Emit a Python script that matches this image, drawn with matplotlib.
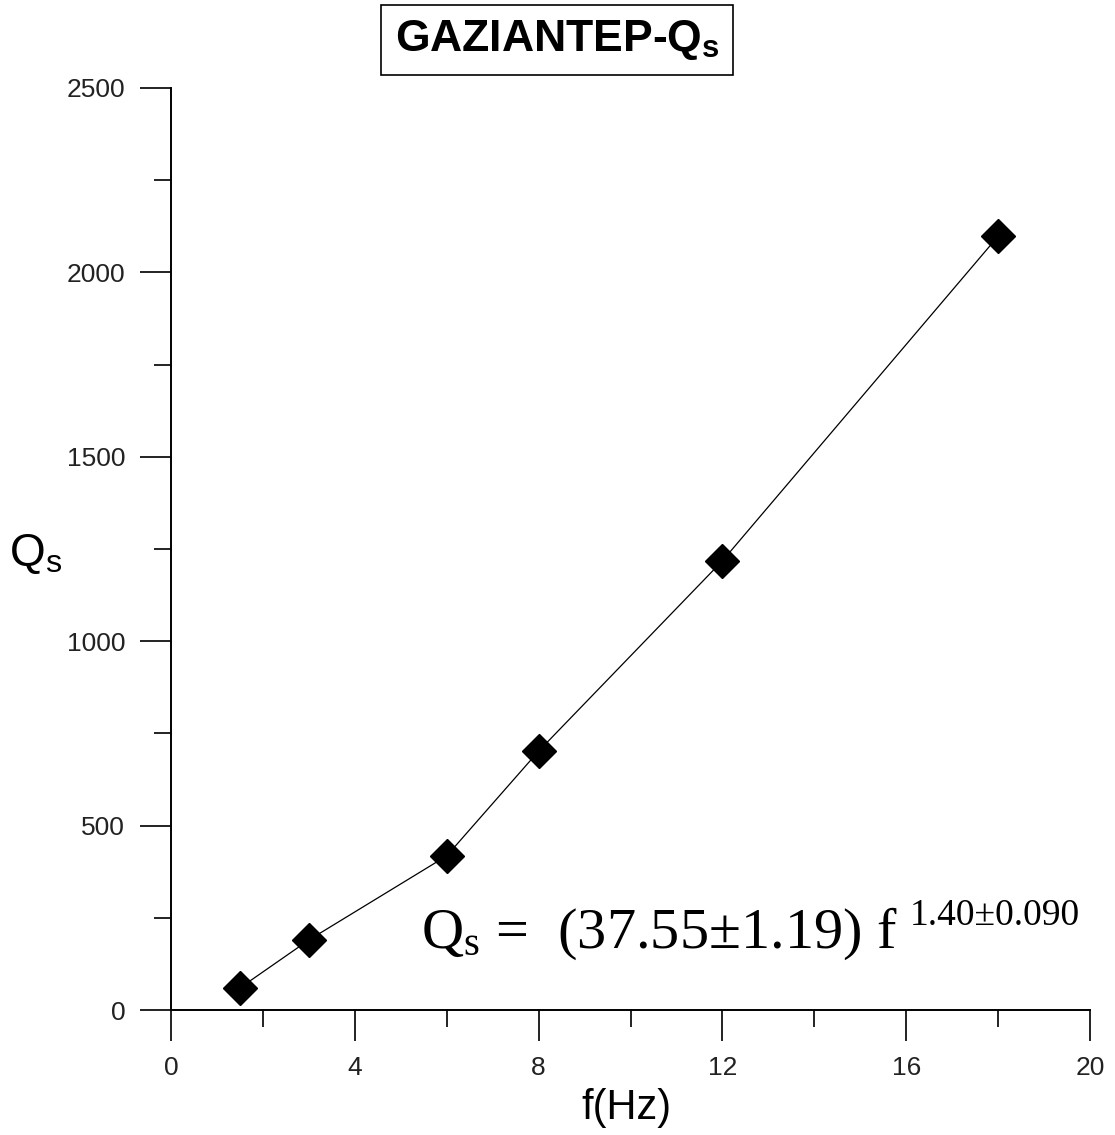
import numpy as np
import matplotlib.pyplot as plt
from matplotlib.ticker import MultipleLocator

plt.rcParams['font.family'] = ['Liberation Sans', 'DejaVu Sans']
plt.rcParams['mathtext.fontset'] = 'custom'
plt.rcParams['mathtext.rm'] = 'Liberation Serif'
plt.rcParams['mathtext.it'] = 'Liberation Serif:italic'
plt.rcParams['mathtext.sf'] = 'Liberation Sans'
plt.rcParams['mathtext.bf'] = 'Liberation Sans:bold'

# frequency (Hz) and Qs values
freq = [1.5, 3, 6, 8, 12, 18]
qs = [60, 190, 418, 702, 1218, 2098]

fig = plt.figure(figsize=(11.15, 11.35), dpi=100)
ax = fig.add_axes([0.1534, 0.1101, 0.8242, 0.8124])

ax.plot(freq, qs, color='black', lw=0.9, marker='D', ms=17,
        markerfacecolor='black', markeredgecolor='black')

ax.set_xlim(0, 20)
ax.set_ylim(0, 2500)
ax.xaxis.set_major_locator(MultipleLocator(4))
ax.xaxis.set_minor_locator(MultipleLocator(2))
ax.yaxis.set_major_locator(MultipleLocator(500))
ax.yaxis.set_minor_locator(MultipleLocator(250))

for s in ['top', 'right']:
    ax.spines[s].set_visible(False)
for s in ['left', 'bottom']:
    ax.spines[s].set_linewidth(1.4)

ax.tick_params(which='major', direction='out', length=22, width=1.4,
               labelsize=19, pad=11, colors='#222222')
ax.tick_params(which='minor', direction='out', length=12, width=1.4,
               colors='#222222')

ax.set_xlabel('f(Hz)', fontsize=30)
ax.xaxis.set_label_coords(0.495, -0.085)
ax.set_ylabel(r'Q$_{\mathsf{s}}$', fontsize=33, rotation=0)
ax.yaxis.label.set_va('center')
ax.yaxis.set_label_coords(-0.148, 0.495)

fig.text(0.4996, 0.9648, r'GAZIANTEP-Q$_{\mathbf{s}}$', fontsize=32,
         fontweight='bold', ha='center', va='center',
         bbox=dict(boxstyle='square,pad=0.3', fc='white', ec='black', lw=1.2))

# fitted relation written on the plot
eq = ax.text(0.2715, 0.068, r'$\mathregular{Q_s}$ =  (37.55±1.19) f',
             transform=ax.transAxes, fontsize=42,
             family='Liberation Serif', ha='left', va='baseline')
ax.annotate('1.40±0.090', xy=(1, 0), xycoords=eq, xytext=(9, 26),
            textcoords='offset points', fontsize=27,
            family='Liberation Serif', ha='left', va='baseline')

fig.savefig('out.png', dpi=100)
